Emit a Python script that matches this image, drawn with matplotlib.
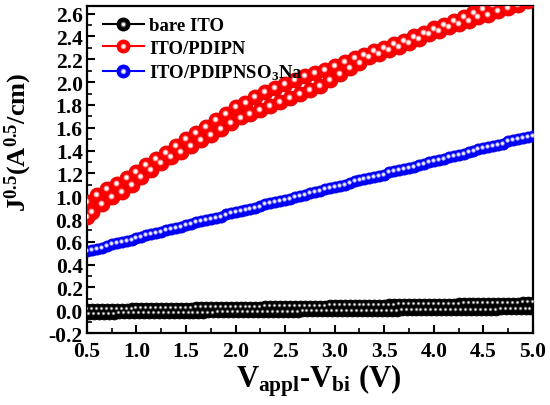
import numpy as np
import matplotlib
matplotlib.use("Agg")
import matplotlib.pyplot as plt
from matplotlib.lines import Line2D
from matplotlib.legend_handler import HandlerTuple
import matplotlib.transforms as mtransforms

plt.rcParams['font.family'] = ['Liberation Serif', 'DejaVu Serif']
plt.rcParams['font.weight'] = 'bold'
plt.rcParams['axes.labelweight'] = 'bold'
plt.rcParams['mathtext.fontset'] = 'custom'
plt.rcParams['mathtext.rm'] = 'Liberation Serif:bold'
plt.rcParams['mathtext.it'] = 'Liberation Serif:bold'
plt.rcParams['mathtext.bf'] = 'Liberation Serif:bold'

# ---------------- data ----------------
labels = ["bare ITO", "ITO/PDIPN", r"ITO/PDIPNSO$_3$Na"]

# bare ITO, two sweeps
v_ito_a = np.linspace(0.5, 5.0, 91)
j_ito_a = [0.010, 0.011, 0.011, 0.012, 0.013, 0.013, 0.014, 0.015, 0.015, 0.016,
           0.017, 0.017, 0.018, 0.019, 0.019, 0.020, 0.021, 0.021, 0.022, 0.023,
           0.023, 0.024, 0.025, 0.025, 0.026, 0.027, 0.027, 0.028, 0.029, 0.029,
           0.030, 0.031, 0.031, 0.032, 0.033, 0.033, 0.034, 0.035, 0.035, 0.036,
           0.037, 0.037, 0.038, 0.039, 0.039, 0.040, 0.041, 0.041, 0.042, 0.043,
           0.043, 0.044, 0.045, 0.045, 0.046, 0.047, 0.047, 0.048, 0.049, 0.049,
           0.050, 0.051, 0.051, 0.052, 0.053, 0.053, 0.054, 0.055, 0.055, 0.056,
           0.057, 0.057, 0.058, 0.059, 0.059, 0.060, 0.061, 0.061, 0.062, 0.063,
           0.063, 0.064, 0.065, 0.065, 0.066, 0.067, 0.067, 0.068, 0.069, 0.069,
           0.070]
v_ito_b = np.linspace(0.525, 4.975, 90)
j_ito_b = [-0.030, -0.030, -0.029, -0.029, -0.028, -0.028, -0.027, -0.027, -0.026, -0.026,
           -0.025, -0.025, -0.025, -0.024, -0.024, -0.023, -0.023, -0.022, -0.022, -0.021,
           -0.021, -0.020, -0.020, -0.020, -0.019, -0.019, -0.018, -0.018, -0.017, -0.017,
           -0.016, -0.016, -0.015, -0.015, -0.015, -0.014, -0.014, -0.013, -0.013, -0.012,
           -0.012, -0.011, -0.011, -0.010, -0.010, -0.010, -0.009, -0.009, -0.008, -0.008,
           -0.007, -0.007, -0.006, -0.006, -0.005, -0.005, -0.005, -0.004, -0.004, -0.003,
           -0.003, -0.002, -0.002, -0.001, -0.001, 0.000, 0.000, 0.000, 0.001, 0.001,
           0.002, 0.002, 0.003, 0.003, 0.004, 0.004, 0.005, 0.005, 0.005, 0.006,
           0.006, 0.007, 0.007, 0.008, 0.008, 0.009, 0.009, 0.010, 0.010, 0.010]

# ITO/PDIPN, two sweeps
v_pdipn_a = np.linspace(0.5, 4.6, 42)
j_pdipn_a = [0.95, 1.01, 1.06, 1.11, 1.16, 1.21, 1.27, 1.33, 1.38, 1.44,
             1.50, 1.55, 1.61, 1.67, 1.72, 1.78, 1.82, 1.87, 1.91, 1.95,
             1.98, 2.02, 2.05, 2.08, 2.11, 2.14, 2.18, 2.21, 2.24, 2.27,
             2.30, 2.33, 2.36, 2.40, 2.43, 2.47, 2.50, 2.54, 2.57, 2.61,
             2.64, 2.68]
v_pdipn_b = np.concatenate([[0.5], np.linspace(0.55, 4.95, 45)])
j_pdipn_b = [0.82,
             0.86, 0.93, 0.99, 1.04, 1.10, 1.17, 1.23, 1.29, 1.34, 1.39,
             1.44, 1.49, 1.54, 1.59, 1.64, 1.69, 1.72, 1.76, 1.79, 1.83,
             1.86, 1.90, 1.93, 1.97, 2.02, 2.07, 2.12, 2.17, 2.22, 2.25,
             2.28, 2.31, 2.34, 2.38, 2.42, 2.45, 2.48, 2.51, 2.54, 2.57,
             2.59, 2.62, 2.65, 2.68, 2.71]

# ITO/PDIPNSO3Na
v_so3 = np.linspace(0.5, 5.0, 91)
j_so3 = [0.52, 0.53, 0.54, 0.55, 0.56, 0.58, 0.59, 0.60, 0.61, 0.62,
         0.63, 0.64, 0.66, 0.67, 0.68, 0.69, 0.70, 0.71, 0.72, 0.73,
         0.75, 0.76, 0.77, 0.78, 0.79, 0.80, 0.81, 0.82, 0.84, 0.85,
         0.86, 0.87, 0.88, 0.89, 0.90, 0.91, 0.93, 0.94, 0.95, 0.96,
         0.97, 0.98, 0.99, 1.00, 1.01, 1.03, 1.04, 1.05, 1.06, 1.07,
         1.08, 1.09, 1.10, 1.12, 1.13, 1.14, 1.15, 1.16, 1.17, 1.18,
         1.19, 1.21, 1.22, 1.23, 1.24, 1.25, 1.26, 1.27, 1.28, 1.30,
         1.31, 1.32, 1.33, 1.34, 1.35, 1.36, 1.37, 1.39, 1.40, 1.41,
         1.42, 1.43, 1.44, 1.45, 1.46, 1.48, 1.49, 1.50, 1.51, 1.52,
         1.53]

xticks = [0.5, 1.0, 1.5, 2.0, 2.5, 3.0, 3.5, 4.0, 4.5, 5.0]
yticks = [-0.2, 0.0, 0.2, 0.4, 0.6, 0.8, 1.0, 1.2, 1.4, 1.6, 1.8, 2.0, 2.2, 2.4, 2.6]

# ---------------- figure ----------------
fig = plt.figure(figsize=(5.5, 4.06), dpi=100)
ax = fig.add_axes([0.158, 0.177, 0.811, 0.806])

hl_off = mtransforms.ScaledTranslation(-0.7 / 72, 0.7 / 72, fig.dpi_scale_trans)

def spheres(x, y, face, edge, glow, ms, gs, hs):
    ax.plot(x, y, ls='none', marker='o', ms=ms, mfc=face, mec=edge, mew=0.6, zorder=3)
    ax.plot(x, y, ls='none', marker='o', ms=gs, mfc=glow, mec='none',
            zorder=4, transform=ax.transData + hl_off)
    ax.plot(x, y, ls='none', marker='o', ms=hs, mfc='white', mec='none',
            zorder=5, transform=ax.transData + hl_off)

spheres(v_ito_b, j_ito_b, 'black', 'black', '#666666', 7.8, 2.6, 1.3)
spheres(v_ito_a, j_ito_a, 'black', 'black', '#666666', 7.8, 2.6, 1.3)
spheres(v_pdipn_b, j_pdipn_b, '#ff0000', '#e00000', '#ff9a9a', 10.8, 4.2, 2.4)
spheres(v_pdipn_a, j_pdipn_a, '#ff0000', '#e00000', '#ff9a9a', 10.8, 4.2, 2.4)
spheres(v_so3, j_so3, '#0000ff', '#0000e0', '#9a9aff', 8.0, 3.2, 1.8)

ax.set_xlim(0.5, 5.0)
ax.set_ylim(-0.2, 2.668)
ax.set_xticks(xticks)
ax.set_yticks(yticks)
ax.set_xticklabels([f"{t:.1f}" for t in xticks])
ax.set_yticklabels([f"{t:.1f}" for t in yticks])
ax.set_xticks([0.75 + 0.5 * i for i in range(9)], minor=True)
ax.set_yticks([-0.1 + 0.2 * i for i in range(14)], minor=True)
ax.tick_params(which='both', direction='in', top=False, right=False)
ax.tick_params(axis='x', labelsize=15.5, pad=6)
ax.tick_params(axis='y', labelsize=15.5, pad=3)
ax.tick_params(which='major', length=6, width=1.5)
ax.tick_params(which='minor', length=3.5, width=1.2)
for s in ax.spines.values():
    s.set_linewidth(1.6)

ax.set_xlabel(r"V$_{appl}$-V$_{bi}$ (V)", fontsize=22, labelpad=0)
ax.set_ylabel(r"J$^{0.5}$(A$^{0.5}$/cm)", fontsize=19, labelpad=0)
ax.xaxis.set_label_coords(0.52, -0.085)
ax.yaxis.set_label_coords(-0.118, 0.585)

handles = []
for face, glow in [('black', '#777777'), ('#ff0000', '#ff9a9a'), ('#0000ff', '#9a9aff')]:
    base = Line2D([], [], color=face, lw=1.5, marker='o', ms=9, mfc=face, mec=face)
    gl = Line2D([], [], ls='none', marker='o', ms=4.0, mfc=glow, mec='none')
    hl = Line2D([], [], ls='none', marker='o', ms=2.2, mfc='white', mec='none')
    handles.append((base, gl, hl))
ax.legend(handles, labels, handler_map={tuple: HandlerTuple(ndivide=1)},
          loc='upper left', bbox_to_anchor=(0.01, 1.0), frameon=False,
          fontsize=13.5, handlelength=2.2, handletextpad=0.3, labelspacing=0.3,
          borderaxespad=0.2)

fig.savefig("out.png", dpi=100)
